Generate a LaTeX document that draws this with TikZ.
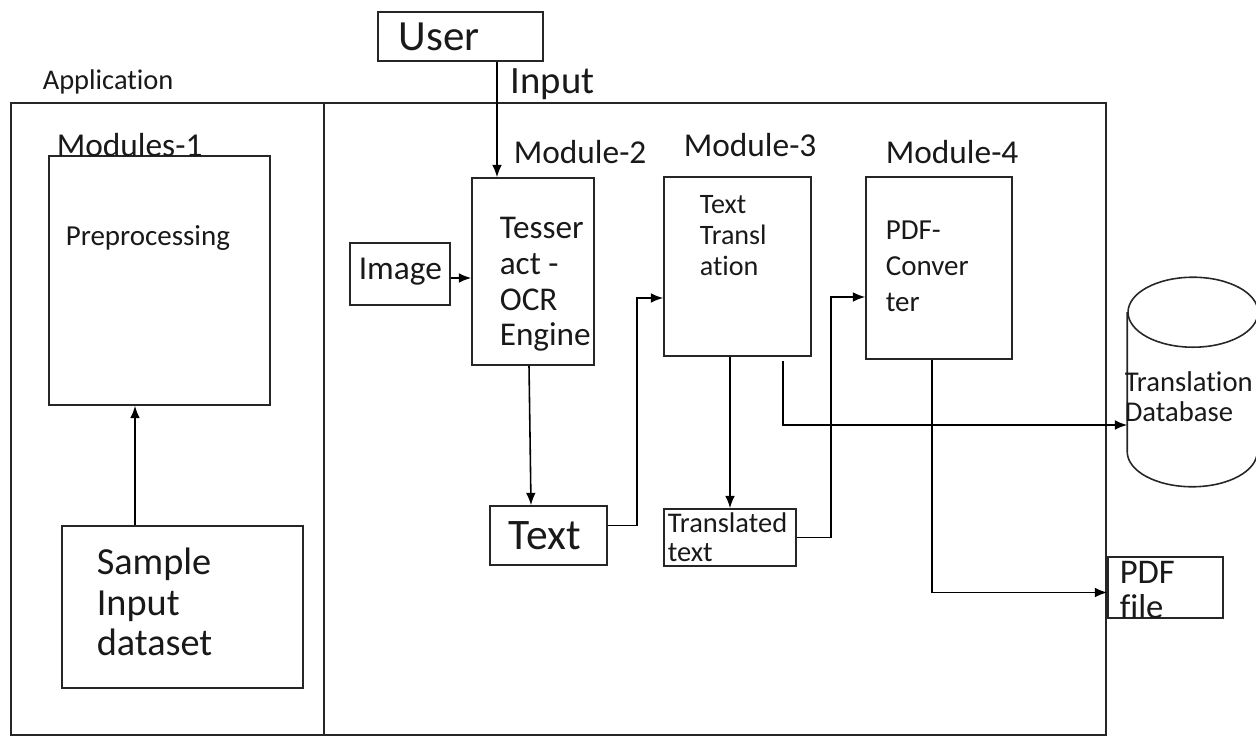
\documentclass[tikz,border=0pt]{standalone}
\usepackage{fontspec}
\setmainfont{Carlito}[Ligatures=NoCommon]
\usetikzlibrary{shapes.geometric,arrows.meta,positioning}

\newcommand\fsz[2]{\fontsize{#1}{#2}\selectfont}

\begin{document}
\begin{tikzpicture}[x=0.02cm,y=-0.02cm,line width=0.9pt,>={Latex[length=7pt,width=5.5pt]},
    box/.style={draw=black!85,rectangle,inner sep=0pt},
    txt/.style={inner sep=0pt,anchor=west,align=left,text=black!90}]
    \useasboundingbox (0,0) rectangle (1256,736);

    % application frame
    \draw[black!85] (11,103) rectangle (1106,735);
    \draw[black!85] (324,103) -- (324,735);
    \node[txt,font=\fsz{16.2pt}{19pt}] (app) at (42,82) {Application};

    % boxes
    \node[box,minimum width=3.3cm,minimum height=0.98cm] (user) at (460.5,36.5) {};
    \node[box,minimum width=4.42cm,minimum height=4.98cm] (pre) at (159.5,280.5) {};
    \node[box,minimum width=4.82cm,minimum height=3.24cm] (sample) at (182.5,607) {};
    \node[box,minimum width=2.44cm,minimum height=3.74cm] (ocr) at (533,271.5) {};
    \node[box,minimum width=2.0cm,minimum height=1.24cm] (image) at (400,274) {};
    \node[box,minimum width=2.34cm,minimum height=1.18cm] (text) at (548.5,535.5) {};
    \node[box,minimum width=2.94cm,minimum height=3.58cm] (trans) at (737.5,266.5) {};
    \node[box,minimum width=2.64cm,minimum height=1.14cm] (transd) at (730,537.5) {};
    \node[box,minimum width=2.92cm,minimum height=3.64cm] (pdfconv) at (939,268) {};
    \node[box,minimum width=2.3cm,minimum height=1.22cm] (pdffile) at (1165.5,587.5) {};

    % database cylinder
    \node[inner sep=0pt,minimum width=2.6cm,minimum height=4.16cm] (db) at (1193,382) {};
    \draw[black!85] ([yshift=-0.7cm]db.north west) -- ([yshift=0.7cm]db.south west)
        arc[start angle=180,end angle=360,x radius=1.3cm,y radius=0.7cm]
        -- ([yshift=-0.7cm]db.north east);
    \draw[black!85] ([yshift=-0.7cm]db.north) ellipse [x radius=1.3cm,y radius=0.7cm];

    % labels
    \node[txt,font=\fsz{24.5pt}{28pt}] (usertxt) at (398,37) {User};
    \node[txt,font=\fsz{19pt}{22pt}] (mod1) at (56,145) {Modules-1};
    \node[txt,font=\fsz{16.5pt}{19pt}] (pretxt) at (65,238) {Preprocessing};
    \node[txt,font=\fsz{21.8pt}{23.2pt}] (sampletxt) at (96,602) {Sample\\Input\\dataset};
    \node[txt,font=\fsz{19pt}{22pt}] (mod2) at (513,152) {Module-2};
    \node[txt,font=\fsz{18.9pt}{20.3pt}] (ocrtxt) at (499,284.5) {Tesser\\act -\\OCR\\Engine};
    \node[txt,font=\fsz{19pt}{22pt}] (imagetxt) at (358,272) {Image};
    \node[txt,font=\fsz{24.8pt}{28pt}] (texttxt) at (508,536) {Text};
    \node[txt,font=\fsz{19pt}{22pt}] (mod3) at (683,145) {Module-3};
    \node[txt,font=\fsz{16pt}{17.6pt}] (transtxt) at (699,236) {Text\\Transl\\ation};
    \node[txt,font=\fsz{16.2pt}{16.4pt}] (transdtxt) at (667,537) {Translated\\text};
    \node[txt,font=\fsz{19pt}{22pt}] (mod4) at (885,152) {Module-4};
    \node[txt,font=\fsz{16.5pt}{20.4pt}] (pdfconvtxt) at (885,266) {PDF-\\Conver\\ter};
    \node[txt,font=\fsz{16.3pt}{17pt}] (dbtxt) at (1124,397) {Translation\\Database};
    \node[txt,font=\fsz{19.7pt}{19.8pt}] (pdffiletxt) at (1119,590) {PDF\\file};

    % arrows
    \draw[->] ([xshift=0.73cm]user.south) -- ([xshift=0.73cm]user.south |- ocr.north)
        node[txt,font=\fsz{22pt}{26pt},pos=0.19,xshift=0.26cm] (input) {Input};
    \draw[->] ([xshift=-0.95cm]sample.north) -- ([xshift=-0.95cm]sample.north |- pre.south);
    \draw[->] ([yshift=-0.08cm]image.east) -- ([yshift=-0.08cm]ocr.west |- image.east);
    \draw[->] ([xshift=-0.08cm]ocr.south) -- ([xshift=-0.35cm]text.north);
    \draw[->] ([yshift=0.2cm]text.east) -- ++(0.58cm,0) |- ([yshift=-0.63cm]trans.west);
    \draw[->] (transd.north |- trans.south) -- (transd.north);
    \draw[->] (transd.east) -- ++(0.68cm,0) |- ([yshift=-0.58cm]pdfconv.west);
    \draw[->] ([xshift=0.91cm,yshift=-0.08cm]trans.south) |- ([yshift=-0.86cm]db.west);
    \draw[->] ([xshift=-0.14cm]pdfconv.south) |- ([yshift=-0.1cm]pdffile.west);
\end{tikzpicture}
\end{document}
